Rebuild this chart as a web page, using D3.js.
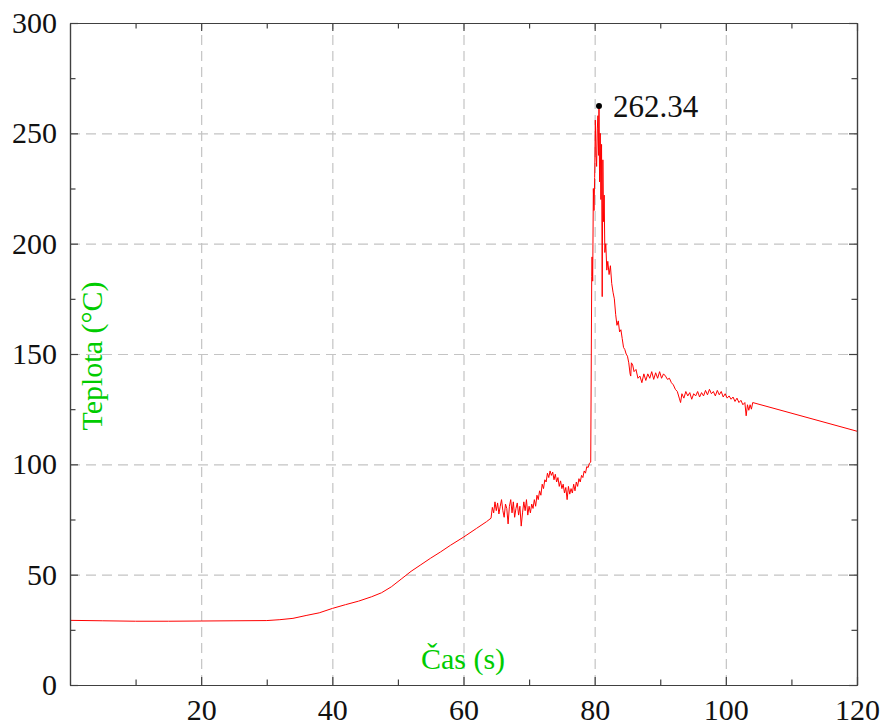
<!DOCTYPE html>
<meta charset="utf-8">
<style>
body { margin: 0; background: #fff; }
.grid line { stroke: #c4c4c4; stroke-width: 1.2px; stroke-dasharray: 10,6; }
.grid path { display: none; }
.frame path, .frame line { stroke: #404040; stroke-width: 1.2px; }
.line { fill: none; stroke: #ff0000; stroke-width: 1px; stroke-linejoin: round; }
</style>
<svg id="chart" width="887" height="726"></svg>
<script src="https://cdn.jsdelivr.net/npm/d3@7"></script>
<script>
// time (s) and temperature (°C)
var times = [0,5,10,15,20,25,30,32,34,36,38,40,42,44,46,47.5,49,50.5,52,53.5,55,56.5,58,60,62,63.5,64.2,
  64.4,64.6,64.8,65.0,65.2,65.4,65.6,65.8,66.0,66.2,66.4,66.6,66.8,67.0,67.2,67.4,67.6,67.8,68.0,68.2,68.4,68.6,68.8,
  69.0,69.2,69.4,69.6,69.8,70.0,70.2,70.4,70.6,70.8,71.0,71.2,71.4,71.6,71.8,72.0,72.2,72.4,72.6,72.8,
  73.0,73.2,73.4,73.6,73.8,74.0,74.2,74.4,74.6,74.8,75.0,75.2,75.4,75.6,75.8,76.0,76.2,76.4,76.6,76.8,
  77.0,77.2,77.4,77.6,77.8,78.0,78.2,78.4,78.6,78.8,79.0,79.2,79.4,
  79.55,79.6,79.7,79.8,79.9,80.0,80.1,80.2,80.3,80.4,80.5,80.6,80.66,80.75,80.85,80.95,81.05,81.15,81.25,81.35,81.45,81.55,
  81.7,81.85,82.0,82.2,82.4,82.6,82.8,83.0,83.2,83.4,83.6,83.8,84.0,84.2,84.4,84.6,84.8,85.0,85.2,85.4,85.5,85.6,85.8,
  86.0,86.3,86.6,86.9,87.2,87.5,87.8,88.1,88.4,88.7,89.0,89.3,89.6,89.9,90.2,90.5,90.8,91.1,91.4,91.7,
  92.0,92.3,92.6,92.9,93.1,93.3,93.6,93.9,94.2,94.5,94.8,95.1,95.4,95.7,96.0,96.3,96.6,96.9,97.2,97.5,97.8,
  98.1,98.4,98.7,99.0,99.3,99.6,99.9,100.2,100.5,100.8,101.1,101.4,101.7,102.0,102.3,102.6,102.9,103.1,103.3,103.5,103.7,103.9,104.1,
  120];
var temps = [29.3,29.1,28.9,28.9,29.0,29.1,29.2,29.6,30.2,31.5,32.7,34.7,36.4,38,40,41.8,44.5,48,51.5,54.5,57.5,60.3,63.3,67,71,74,75.6,
  80.5,78,83,79,82.5,77.5,81,84,79,76,82,80,73,81,84,78,83,76,80,82.5,77,81,72,
  78,83,79,84,77,81,78,82,80,84,81,86,84,88,86,91,89,93,92,96,
  94,97,95,96.5,93,95.5,92,94,90,92.5,89,91,87,89.5,84,90,86.5,89,87,91,
  88,92,90,93.5,92,95,94,97,96,99,98.5,100.5,101,
  185,194,183,225,215,230,256,240,235,252,258,240,262.34,228,250,220,245,176,238,210,222,196,
  200,188,192,186,190,182,178,175,168,163,165,160,161,157,153,152,150,149,146,141,140,146,145,
  142,143,139,140,137,141,138,141,139,142,138.5,141.5,139,142,139,141,140,138.5,139,137,
  136,134,133,130,128,132,130,133,131,132.5,129.5,132,131,133,130.5,132.5,131,133.5,131.5,134,132,
  133,131,133.5,131.5,133,130.5,132,130,131,129.5,130.5,128.5,130,128,129,127,128,122,127,124.5,127,125,128,
  115];
var peak = {t: 80.66, v: 262.34};

var xMajor = [20, 40, 60, 80, 100, 120];
var xMinor = [10, 30, 50, 70, 90, 110];
var yMajor = [0, 50, 100, 150, 200, 250, 300];
var yMinor = [25, 75, 125, 175, 225, 275];

var serif = "'Liberation Serif', 'Times New Roman', serif";

var svg = d3.select("#chart"),
    pLeft = 70, pRight = 857, pTop = 23, pBottom = 685;

var x = d3.scaleLinear().domain([0, 120]).range([pLeft, pRight]);
var y = d3.scaleLinear().domain([0, 300]).range([pBottom, pTop]);

// grid
svg.append("g").attr("class", "grid")
    .attr("transform", "translate(0," + pBottom + ")")
    .call(d3.axisBottom(x).tickValues([20, 40, 60, 80, 100]).tickSize(-(pBottom - pTop)).tickFormat(""));
svg.append("g").attr("class", "grid")
    .attr("transform", "translate(" + pLeft + ",0)")
    .call(d3.axisLeft(y).tickValues([50, 100, 150, 200, 250]).tickSize(-(pRight - pLeft)).tickFormat(""));

// data line
var line = d3.line().x(function(d) { return x(d[0]); }).y(function(d) { return y(d[1]); });
svg.append("path")
    .datum(times.map(function(t, i) { return [t, temps[i]]; }))
    .attr("class", "line")
    .attr("d", line);

// frame and ticks (pointing inward)
function frame(axis, tx, ty) {
  return svg.append("g").attr("class", "frame").attr("transform", "translate(" + tx + "," + ty + ")").call(axis);
}
frame(d3.axisBottom(x).tickValues(xMajor).tickSize(-8).tickSizeOuter(0).tickPadding(14), 0, pBottom);
frame(d3.axisBottom(x).tickValues(xMinor).tickSize(-5.5).tickSizeOuter(0).tickFormat(""), 0, pBottom);
frame(d3.axisTop(x).tickValues(xMajor).tickSize(-8).tickSizeOuter(0).tickFormat(""), 0, pTop);
frame(d3.axisTop(x).tickValues(xMinor).tickSize(-5.5).tickSizeOuter(0).tickFormat(""), 0, pTop);
frame(d3.axisLeft(y).tickValues(yMajor).tickSize(-8).tickSizeOuter(0).tickPadding(13), pLeft, 0);
frame(d3.axisLeft(y).tickValues(yMinor).tickSize(-5.5).tickSizeOuter(0).tickFormat(""), pLeft, 0);
frame(d3.axisRight(y).tickValues(yMajor).tickSize(-8).tickSizeOuter(0).tickFormat(""), pRight, 0);
frame(d3.axisRight(y).tickValues(yMinor).tickSize(-5.5).tickSizeOuter(0).tickFormat(""), pRight, 0);

svg.selectAll(".frame").attr("font-family", serif);
svg.selectAll(".frame text").style("font-family", serif).style("font-size", "30px").attr("fill", "#111");

// peak marker
svg.append("circle").attr("cx", x(peak.t)).attr("cy", y(peak.v)).attr("r", 3).attr("fill", "#000");
svg.append("text").attr("x", x(peak.t) + 14).attr("y", y(peak.v) + 11)
    .style("font-family", serif).style("font-size", "31px").attr("fill", "#111").text(peak.v.toFixed(2));

// axis titles
svg.append("text").attr("x", 463).attr("y", 669).attr("text-anchor", "middle")
    .style("font-family", serif).style("font-size", "30px").attr("fill", "#00cc00").text("Čas (s)");
svg.append("text").attr("transform", "translate(102,356) rotate(-90)").attr("text-anchor", "middle")
    .style("font-family", serif).style("font-size", "30px").attr("fill", "#00cc00").text("Teplota (°C)");
</script>
